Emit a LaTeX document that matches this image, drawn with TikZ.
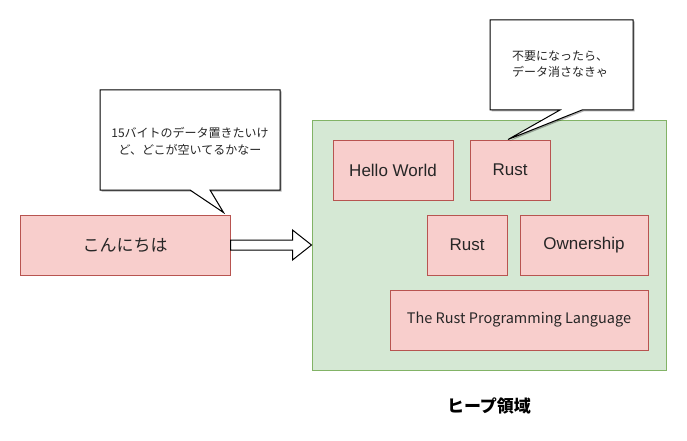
\documentclass[tikz,border=0pt]{standalone}
\usepackage{fontspec}
\setmainfont{Liberation Sans}
\newfontfamily\jp{Noto Sans CJK JP}
\usetikzlibrary{shadows,calc}
\definecolor{pinkfill}{HTML}{F8CECC}
\definecolor{pinkline}{HTML}{B85450}
\definecolor{greenfill}{HTML}{D5E8D4}
\definecolor{greenline}{HTML}{82B366}
\definecolor{txt}{HTML}{262626}
\begin{document}
\begin{tikzpicture}[x=1pt,y=-1pt,
  membox/.style={draw=pinkline,fill=pinkfill,line width=1pt,inner sep=0pt,
    text=txt,font=\fontsize{17}{20}\selectfont},
  heapbox/.style={draw=greenline,fill=greenfill,line width=1pt,inner sep=0pt},
  callout/.style={draw=black,fill=white,line width=1pt,line join=miter,
    drop shadow={shadow xshift=1.5pt,shadow yshift=-1.5pt,opacity=0.3,fill=black}},
  calltext/.style={align=center,text=txt,inner sep=0pt,
    font=\jp\fontsize{12}{16.5}\selectfont},
  blockarrow/.style={draw=black,fill=white,line width=1pt,line join=miter}
]
\useasboundingbox (0,0) rectangle (687,441);

% heap area
\node[heapbox,minimum width=354pt,minimum height=250pt] (heap) at (489,245) {};

% memory boxes
\node[membox,minimum width=210pt,minimum height=60pt] (kon) at (125,245) {\jp こんにちは};
\node[membox,minimum width=120pt,minimum height=60pt] (hello) at (393,170) {Hello World};
\node[membox,minimum width=80pt,minimum height=60pt] (rust1) at (510,170) {Rust};
\node[membox,minimum width=80pt,minimum height=60pt] (rust2) at (467,245) {Rust};
\node[membox,minimum width=128pt,minimum height=60pt] (own) at (584,245) {Ownership};
\node[membox,minimum width=258pt,minimum height=60pt,font=\jp\fontsize{14.5}{17}\selectfont] (trpl) at (519,320) {The Rust Programming Language};

% label
\node[text=black,font=\jp\bfseries\fontsize{17}{20}\selectfont,inner sep=0pt] (heaplabel) at (489,406) {ヒープ領域};

% block arrow
\draw[blockarrow] ([yshift=5pt]kon.east) -- ++(62,0) -- ++(0,-10) -- (heap.west) -- ++(-19,15) -- ++(0,-10) -- ([yshift=-5pt]kon.east) -- cycle;

% callout 1
\coordinate (tip1) at ([xshift=-7pt]kon.north east);
\path[callout] (100,90) -- (280,90) -- (280,190) -- (210,190) -- ([yshift=2pt]tip1) -- (190,190) -- (100,190) -- cycle;
\node[calltext] (c1) at (190,141) {15バイトのデータ置きたいけ\\ど、どこが空いてるかなー};

% callout 2
\coordinate (tip2) at ([xshift=-2pt]rust1.north);
\path[callout] (490,20) -- (633,20) -- (633,110) -- (582,110) -- (tip2) -- (560,110) -- (490,110) -- cycle;
\node[calltext] (c2) at (560,64) {不要になったら、\\データ消さなきゃ};
\end{tikzpicture}
\end{document}
